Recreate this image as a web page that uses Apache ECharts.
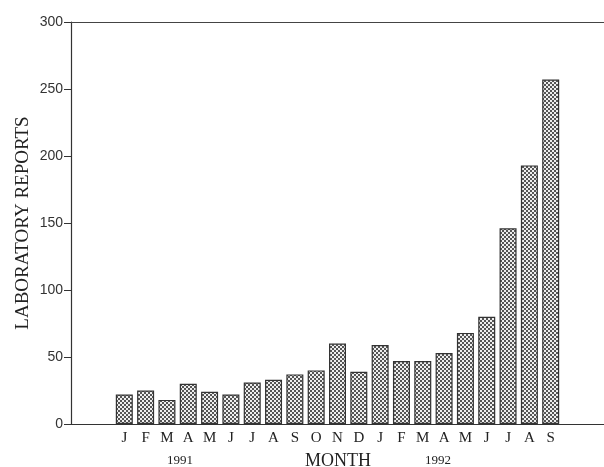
<!DOCTYPE html>
<html>
<head>
<meta charset="utf-8">
<script src="https://cdn.jsdelivr.net/npm/echarts@6/dist/echarts.min.js"></script>
<style>
  html, body { margin: 0; padding: 0; background: #fff; }
  #chart { width: 604px; height: 467px; }
</style>
</head>
<body>
<div id="chart"></div>
<script>
// 月份（两端各留两个空位，对应图中坐标轴两侧的空白）
const months = ['', '', 'J', 'F', 'M', 'A', 'M', 'J', 'J', 'A', 'S', 'O', 'N', 'D',
  'J', 'F', 'M', 'A', 'M', 'J', 'J', 'A', 'S', '', '']
// 实验室报告数（1991.1 - 1992.9）
const reports = [null, null, 22, 25, 18, 30, 24, 22, 31, 33, 37, 40, 60, 39,
  59, 47, 47, 53, 68, 80, 146, 193, 257, null, null]
const yTicks = [0, 50, 100, 150, 200, 250, 300]

// 点状网纹填充
const makeStipple = () => {
  const c = document.createElement('canvas')
  c.width = 4
  c.height = 4
  const ctx = c.getContext('2d')
  ctx.fillStyle = '#eeeeee'
  ctx.fillRect(0, 0, 4, 4)
  ctx.fillStyle = '#555555'
  ctx.fillRect(0, 0, 2, 2)
  ctx.fillRect(2, 2, 2, 2)
  return c
}

const chart = echarts.init(document.getElementById('chart'))
const serif = '"Liberation Serif", "DejaVu Serif", serif'

chart.setOption({
  animation: false,
  grid: { left: 71, right: 0, top: 22, bottom: 43 },
  xAxis: [
    {
      type: 'category',
      data: months,
      boundaryGap: true,
      axisLine: { lineStyle: { color: '#333', width: 1.2 } },
      axisTick: {
        length: 4,
        lineStyle: { color: '#333' },
        interval: (i) => i >= 3 && i <= 22
      },
      axisLabel: { color: '#222', fontFamily: serif, fontSize: 15, margin: 7, interval: 0 }
    },
    {
      type: 'category',
      position: 'top',
      data: months,
      axisLine: { lineStyle: { color: '#444', width: 1.2 } },
      axisTick: { show: false },
      axisLabel: { show: false }
    }
  ],
  yAxis: {
    type: 'value',
    min: yTicks[0],
    max: yTicks[yTicks.length - 1],
    interval: 50,
    name: 'LABORATORY REPORTS',
    nameLocation: 'middle',
    nameRotate: 90,
    nameGap: 38,
    nameMoveOverlap: false,
    nameTextStyle: { color: '#222', fontFamily: serif, fontSize: 19 },
    axisLine: { show: true, lineStyle: { color: '#333', width: 1.2 } },
    axisTick: { show: true, length: 7, lineStyle: { color: '#333' } },
    axisLabel: { color: '#333', fontFamily: '"Liberation Sans", sans-serif', fontSize: 14, margin: 8 },
    splitLine: { show: false }
  },
  graphic: [
    { type: 'text', left: 167, top: 454, style: { text: '1991', font: '13px ' + serif, fill: '#222' } },
    { type: 'text', left: 305, top: 452, style: { text: 'MONTH', font: '18px ' + serif, fill: '#222' } },
    { type: 'text', left: 425, top: 454, style: { text: '1992', font: '13px ' + serif, fill: '#222' } }
  ],
  series: [{
    type: 'bar',
    data: reports,
    barWidth: 17,
    itemStyle: {
      color: { image: makeStipple(), repeat: 'repeat' },
      borderColor: '#333',
      borderWidth: 1.2
    }
  }]
})
</script>
</body>
</html>
